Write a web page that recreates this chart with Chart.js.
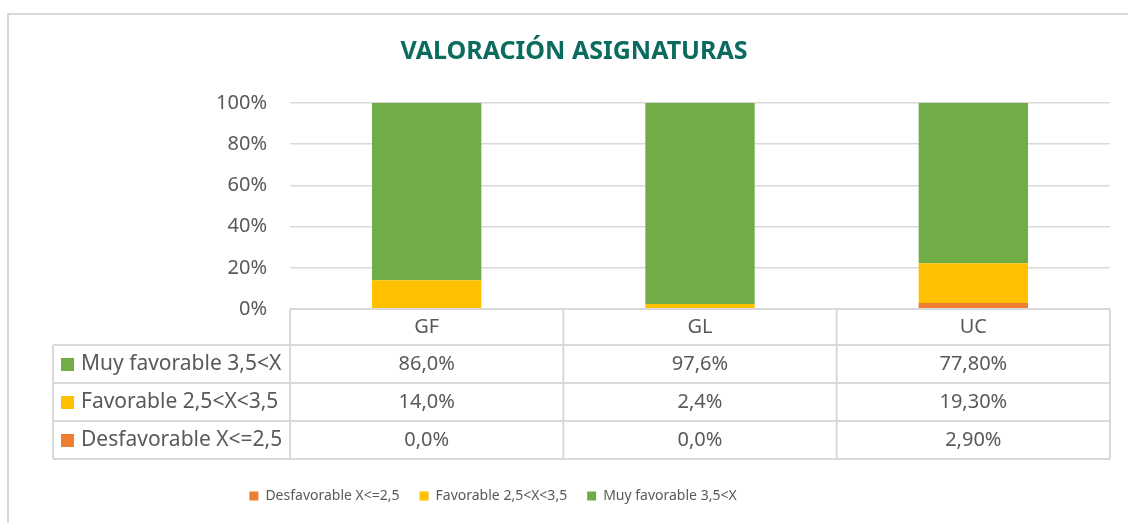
<!DOCTYPE html>
<html>
<head>
<meta charset="utf-8">
<script src="https://cdn.jsdelivr.net/npm/chart.js@4.4.1/dist/chart.umd.min.js"></script>
<style>
  html, body { margin: 0; padding: 0; background: #fff; }
  #wrap { position: relative; width: 1128px; height: 523px; }
  canvas { display: block; }
</style>
</head>
<body>
<div id="wrap"><canvas id="c" width="1128" height="523"></canvas></div>
<script>
const categories = ['GF', 'GL', 'UC'];
const seriesLabels = ['Desfavorable X<=2,5', 'Favorable 2,5<X<3,5', 'Muy favorable 3,5<X'];
const desfavorable = [0.0, 0.0, 2.9];
const favorable = [14.0, 2.4, 19.3];
const muyFavorable = [86.0, 97.6, 77.8];
const tableDecimals = [1, 1, 2];
const yTicks = [0, 20, 40, 60, 80, 100];
const colors = ['#ED7D31', '#FFC000', '#70AD47'];

const FONT = '"Noto Sans", "Open Sans", sans-serif';
const TEXT = '#595959';
const GRID = '#D9D9D9';

const seriesValues = [desfavorable, favorable, muyFavorable];

function fmt(v, d) {
  return v.toFixed(d).replace('.', ',') + '%';
}

const frameAndTable = {
  id: 'frameAndTable',
  afterLayout(chart) {
    // Excel centres this legend left of the plot centre
    const lg = chart.legend;
    if (lg) { lg.left -= 81; lg.right -= 81; }
  },
  beforeDraw(chart) {
    const ctx = chart.ctx;
    ctx.save();
    ctx.strokeStyle = GRID;
    ctx.lineWidth = 2;
    ctx.strokeRect(8, 14, 1130, 520);
    ctx.restore();
  },
  afterDraw(chart) {
    const ctx = chart.ctx;
    const x = chart.scales.x;
    const area = chart.chartArea;
    const n = categories.length;
    const step = (area.right - area.left) / n;
    const top = area.bottom;
    const headerH = 36;
    const rowH = 38;
    const leftEdge = 53;
    const rowsTop = top + headerH;
    const bottom = rowsTop + rowH * 3;

    ctx.save();
    ctx.strokeStyle = GRID;
    ctx.lineWidth = 2;
    ctx.beginPath();
    ctx.moveTo(area.left, top); ctx.lineTo(area.right, top);
    for (let r = 0; r <= 3; r++) {
      const y = rowsTop + r * rowH;
      ctx.moveTo(leftEdge, y); ctx.lineTo(area.right, y);
    }
    ctx.moveTo(leftEdge, rowsTop); ctx.lineTo(leftEdge, bottom);
    for (let i = 0; i <= n; i++) {
      const vx = area.left + i * step;
      ctx.moveTo(vx, top); ctx.lineTo(vx, bottom);
    }
    ctx.stroke();

    ctx.fillStyle = TEXT;
    ctx.font = '20px ' + FONT;
    ctx.textAlign = 'center';
    ctx.textBaseline = 'middle';
    categories.forEach((c, i) => {
      ctx.fillText(c, x.getPixelForValue(i), top + headerH / 2);
    });

    const order = [2, 1, 0];
    order.forEach((s, r) => {
      const cy = rowsTop + r * rowH + rowH / 2;
      ctx.fillStyle = colors[s];
      ctx.fillRect(61, cy - 6, 13, 13);
      ctx.fillStyle = TEXT;
      ctx.textAlign = 'left';
      ctx.font = '21px ' + FONT;
      ctx.fillText(seriesLabels[s], 81, cy);
      ctx.textAlign = 'center';
      ctx.font = '20px ' + FONT;
      categories.forEach((c, i) => {
        ctx.fillText(fmt(seriesValues[s][i], tableDecimals[i]), x.getPixelForValue(i), cy);
      });
    });
    ctx.restore();
  }
};

new Chart(document.getElementById('c'), {
  type: 'bar',
  data: {
    labels: categories,
    datasets: seriesLabels.map((lab, i) => ({
      label: lab,
      data: seriesValues[i],
      backgroundColor: colors[i],
      borderWidth: 0,
      categoryPercentage: 1.0,
      barPercentage: 0.4
    }))
  },
  options: {
    responsive: false,
    animation: false,
    devicePixelRatio: 1,
    layout: { padding: { top: 26, right: 18, bottom: 10, left: 38 } },
    plugins: {
      title: {
        display: true,
        text: 'VALORACIÓN ASIGNATURAS',
        color: '#0B6B5E',
        font: { family: FONT, size: 25, weight: 'bold' },
        padding: { top: 11, bottom: 36 }
      },
      legend: {
        position: 'bottom',
        labels: {
          color: TEXT,
          font: { family: FONT, size: 14 },
          boxWidth: 9,
          boxHeight: 9,
          padding: 20
        }
      },
      tooltip: { enabled: false }
    },
    scales: {
      x: {
        stacked: true,
        grid: { display: false },
        border: { display: false },
        ticks: { display: false },
        afterFit(scale) { scale.height = 160; }
      },
      y: {
        stacked: true,
        min: 0,
        max: 100,
        afterBuildTicks(scale) { scale.ticks = yTicks.map(v => ({ value: v })); },
        afterFit(scale) { scale.width = 252; },
        grid: { color: GRID, lineWidth: 1.5, drawTicks: false },
        border: { display: false },
        ticks: {
          color: TEXT,
          font: { family: FONT, size: 20 },
          padding: 23,
          callback: v => v + '%'
        }
      }
    }
  },
  plugins: [frameAndTable]
});
</script>
</body>
</html>
